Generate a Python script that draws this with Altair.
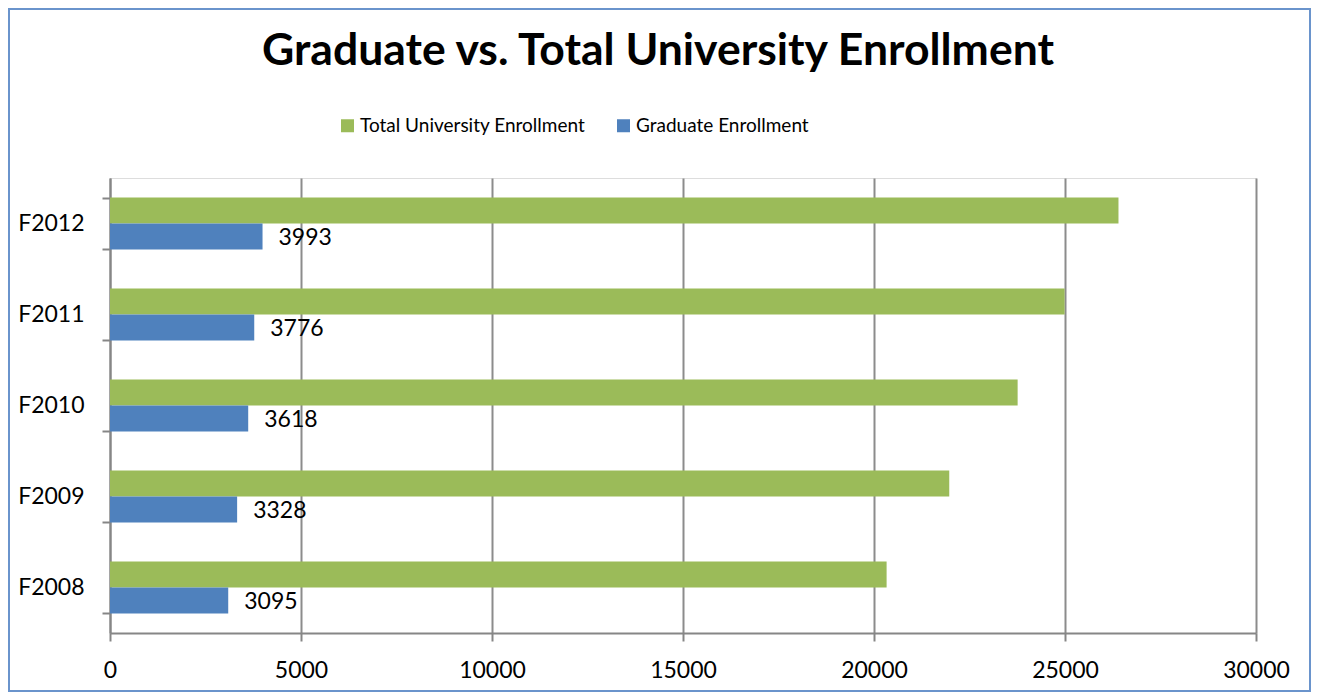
import altair as alt
import pandas as pd

# ---- data ----
years = ["F2008", "F2009", "F2010", "F2011", "F2012"]
total_enrollment = [20330, 21970, 23760, 24990, 26400]
graduate_enrollment = [3095, 3328, 3618, 3776, 3993]
series_names = ["Total University Enrollment", "Graduate Enrollment"]
series_colors = ["#9BBB59", "#4F81BD"]
x_ticks = [0, 5000, 10000, 15000, 20000, 25000, 30000]

rows = []
for yr, t, g in zip(years, total_enrollment, graduate_enrollment):
    rows.append({"Year": yr, "Series": series_names[0], "Value": t})
    rows.append({"Year": yr, "Series": series_names[1], "Value": g})
df = pd.DataFrame(rows)

FONT = "Lato"
W, H = 1146, 455
year_order = list(reversed(years))

y_enc = alt.Y("Year:N", sort=year_order,
              scale=alt.Scale(paddingInner=0.4286, paddingOuter=0.2143),
              axis=alt.Axis(title=None, tickBand="extent", tickSize=8,
                            labelPadding=18, labelFontSize=23,
                            labelFont=FONT, labelColor="black",
                            domainColor="#868686", domainWidth=2,
                            tickColor="#868686", tickWidth=2, grid=False))
x_enc = alt.X("Value:Q",
              scale=alt.Scale(domain=[0, 30000], nice=False),
              axis=alt.Axis(title=None, values=x_ticks, format="d",
                            tickSize=8, labelPadding=18, labelFontSize=23,
                            labelFont=FONT, labelColor="black",
                            labelFlush=False, labelOverlap=False,
                            domainColor="#868686", domainWidth=2,
                            tickColor="#868686", tickWidth=2,
                            grid=True, gridColor="#8C8C8C", gridWidth=2))
yoff = alt.YOffset("Series:N", scale=alt.Scale(domain=series_names, paddingInner=0, paddingOuter=0))

bars = alt.Chart(df).mark_bar().encode(
    y=y_enc,
    x=x_enc,
    yOffset=yoff,
    color=alt.Color("Series:N",
                    scale=alt.Scale(domain=series_names, range=series_colors),
                    legend=alt.Legend(title=None, orient="none",
                                      direction="horizontal",
                                      legendX=228, legendY=-62,
                                      symbolType="square", symbolSize=169,
                                      symbolStrokeWidth=0, symbolOpacity=1,
                                      labelFont=FONT, labelFontSize=19,
                                      labelColor="black", labelOffset=3,
                                      labelLimit=0, columnPadding=28)),
)

labels = alt.Chart(df).transform_filter(
    alt.datum.Series == series_names[1]
).mark_text(align="left", baseline="middle", dx=16, dy=2,
            font=FONT, fontSize=23, color="black").encode(
    y=alt.Y("Year:N", sort=year_order),
    x=alt.X("Value:Q"),
    yOffset=yoff,
    text=alt.Text("Value:Q", format="d"),
)

border_df = pd.DataFrame({"k": [0]})
border = alt.Chart(border_df).mark_rect(
    fill=None, stroke="#6A94CC", strokeWidth=2
).encode(
    x=alt.value(-101), x2=alt.value(W + 54),
    y=alt.value(-169), y2=alt.value(H + 58),
)

chart = alt.layer(bars, labels, border).properties(
    width=W, height=H,
    title=alt.TitleParams("Graduate vs. Total University Enrollment",
                          font=FONT, fontSize=44.5, fontWeight="bold",
                          color="black", anchor="middle", baseline="alphabetic",
                          dx=-25, dy=101, offset=0),
    autosize=alt.AutoSizeParams(type="none"),
    padding={"left": 102, "top": 170, "right": 55, "bottom": 59},
).configure_view(stroke=None).configure(background="white")

chart.save("out.html", embed_options={"renderer": "svg", "actions": False})
